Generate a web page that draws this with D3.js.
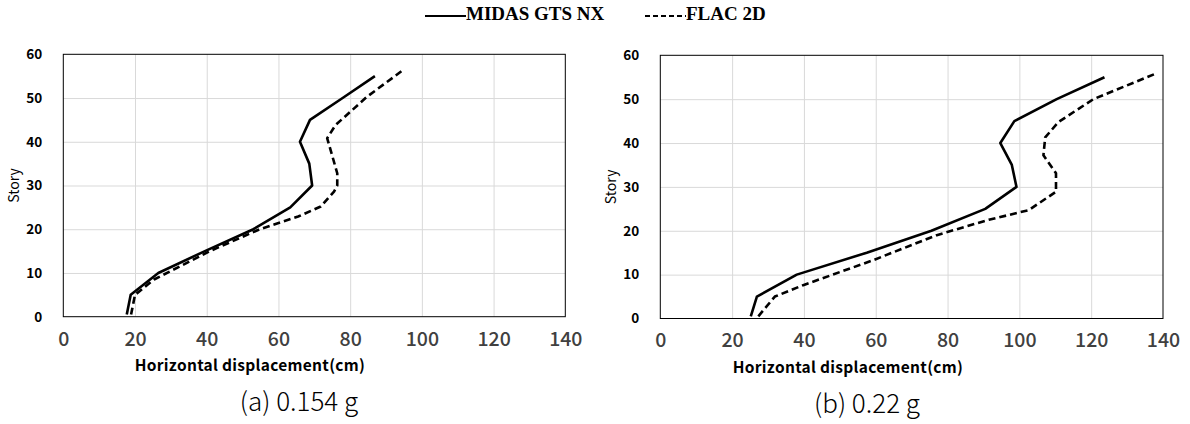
<!DOCTYPE html>
<html>
<head>
<meta charset="utf-8">
<script src="https://cdn.jsdelivr.net/npm/d3@7/dist/d3.min.js"></script>
<style>
  html, body { margin: 0; padding: 0; background: #fff; }
  svg { display: block; }
</style>
</head>
<body>
<svg id="chart" width="1190" height="424"></svg>
<script>
// Storey levels and horizontal displacements (cm)
const storiesMidas = [0.5, 5, 10, 15, 20, 25, 30, 35, 40, 45, 50, 55];
const midasA = [17.7, 18.8, 26.5, 39.5, 53.0, 63.3, 69.4, 68.6, 66.0, 68.8, 77.9, 86.9];
const midasB = [25.2, 26.9, 38.0, 57.5, 75.5, 90.5, 99.2, 97.9, 94.7, 98.6, 110.4, 123.7];

const storiesFlacA = [0.5, 5, 8.5, 15, 20, 22.9, 25.2, 28.6, 30, 32.8, 40.8, 43.8, 50.3, 56.3];
const flacA = [18.9, 20.0, 25.3, 40.9, 54.8, 65.5, 71.8, 75.5, 76.4, 76.4, 73.6, 75.9, 84.7, 94.6];

const storiesFlacB = [0.5, 5, 7.6, 13.3, 19, 22.5, 24.7, 28.9, 33.1, 37.2, 41.3, 44.8, 50, 55.7];
const flacB = [27.3, 31.9, 39.8, 59.3, 77.0, 91.5, 102.6, 110.2, 110.2, 106.7, 107.2, 110.9, 120.6, 137.6];

const xTicks = [0, 20, 40, 60, 80, 100, 120, 140];
const yTicks = [0, 10, 20, 30, 40, 50, 60];
const seriesNames = ["MIDAS GTS NX", "FLAC 2D"];
const captions = ["(a) 0.154 g", "(b) 0.22 g"];
const xTitle = "Horizontal displacement(cm)";
const yTitle = "Story";

const panels = [
  { x0: 63.3, x1: 565.3, y0: 54.3, y1: 316.7, titleX: 250, captionX: 299,
    midas: midasA, flac: flacA, flacStories: storiesFlacA, caption: captions[0] },
  { x0: 660.3, x1: 1163, y0: 55.3, y1: 318.5, titleX: 848, captionX: 867,
    midas: midasB, flac: flacB, flacStories: storiesFlacB, caption: captions[1] }
];

const svg = d3.select("#chart");
const sansKR = "'Noto Sans CJK KR', 'Noto Sans', sans-serif";

panels.forEach(p => {
  const x = d3.scaleLinear().domain([0, 140]).range([p.x0, p.x1]);
  const y = d3.scaleLinear().domain([0, 60]).range([p.y1, p.y0]);
  const g = svg.append("g");

  // gridlines
  g.append("g").call(d3.axisBottom(x).tickValues(xTicks.slice(1, -1)).tickSize(-(p.y1 - p.y0)).tickFormat(""))
    .attr("transform", `translate(0,${p.y1})`)
    .call(a => a.select(".domain").remove())
    .call(a => a.selectAll("line").attr("stroke", "#d9d9d9").attr("stroke-width", 1));
  g.append("g").call(d3.axisLeft(y).tickValues(yTicks.slice(1, -1)).tickSize(-(p.x1 - p.x0)).tickFormat(""))
    .attr("transform", `translate(${p.x0},0)`)
    .call(a => a.select(".domain").remove())
    .call(a => a.selectAll("line").attr("stroke", "#d9d9d9").attr("stroke-width", 1));

  // plot frame
  g.append("rect")
    .attr("x", p.x0).attr("y", p.y0)
    .attr("width", p.x1 - p.x0).attr("height", p.y1 - p.y0)
    .attr("fill", "none").attr("stroke", "#000").attr("stroke-width", 1);

  // x tick labels
  const xa = g.append("g").attr("transform", `translate(0,${p.y1})`)
    .call(d3.axisBottom(x).tickValues(xTicks).tickSize(0).tickPadding(15));
  xa.select(".domain").remove();
  xa.selectAll("text").attr("font-family", sansKR).attr("font-size", 19.5)
    .attr("font-weight", 500).attr("fill", "#404040");

  // y tick labels
  const ya = g.append("g").attr("transform", `translate(${p.x0},0)`)
    .call(d3.axisLeft(y).tickValues(yTicks).tickSize(0).tickPadding(21));
  ya.select(".domain").remove();
  ya.selectAll("text").attr("font-family", sansKR).attr("font-size", 13.5)
    .attr("font-weight", 700).attr("fill", "#000");

  // axis titles
  g.append("text")
    .attr("x", p.titleX).attr("y", p.y1 + 50)
    .attr("text-anchor", "middle").attr("dominant-baseline", "middle")
    .attr("font-family", sansKR).attr("font-size", 15.5).attr("font-weight", 700)
    .attr("letter-spacing", "0.3px")
    .text(xTitle);
  g.append("text")
    .attr("transform", `translate(${p.x0 - 48},${(p.y0 + p.y1) / 2}) rotate(-90)`)
    .attr("text-anchor", "middle").attr("dominant-baseline", "middle")
    .attr("font-family", sansKR).attr("font-size", 14).attr("font-weight", 400)
    .text(yTitle);

  // caption
  g.append("text")
    .attr("x", p.captionX).attr("y", p.y1 + 87)
    .attr("text-anchor", "middle").attr("dominant-baseline", "middle")
    .attr("font-family", sansKR).attr("font-size", 26).attr("font-weight", 300)
    .text(p.caption);

  const line = d3.line().x(d => x(d[0])).y(d => y(d[1]));

  g.append("path")
    .datum(p.midas.map((v, i) => [v, storiesMidas[i]]))
    .attr("d", line).attr("fill", "none").attr("stroke", "#000")
    .attr("stroke-width", 2.6).attr("stroke-linejoin", "round");

  g.append("path")
    .datum(p.flac.map((v, i) => [v, p.flacStories[i]]))
    .attr("d", line).attr("fill", "none").attr("stroke", "#000")
    .attr("stroke-width", 2.6).attr("stroke-dasharray", "7,4")
    .attr("stroke-linejoin", "round");
});

// legend
const lg = svg.append("g").attr("font-family", "'Liberation Serif', 'Times New Roman', serif")
  .attr("font-weight", 700).attr("font-size", 19);
lg.append("line").attr("x1", 425).attr("x2", 466).attr("y1", 16).attr("y2", 16)
  .attr("stroke", "#000").attr("stroke-width", 2);
lg.append("text").attr("x", 466).attr("y", 16).attr("dominant-baseline", "middle").text(seriesNames[0]);
lg.append("line").attr("x1", 645).attr("x2", 686).attr("y1", 16).attr("y2", 16)
  .attr("stroke", "#000").attr("stroke-width", 2).attr("stroke-dasharray", "5,3");
lg.append("text").attr("x", 686).attr("y", 16).attr("dominant-baseline", "middle").text(seriesNames[1]);
</script>
</body>
</html>
